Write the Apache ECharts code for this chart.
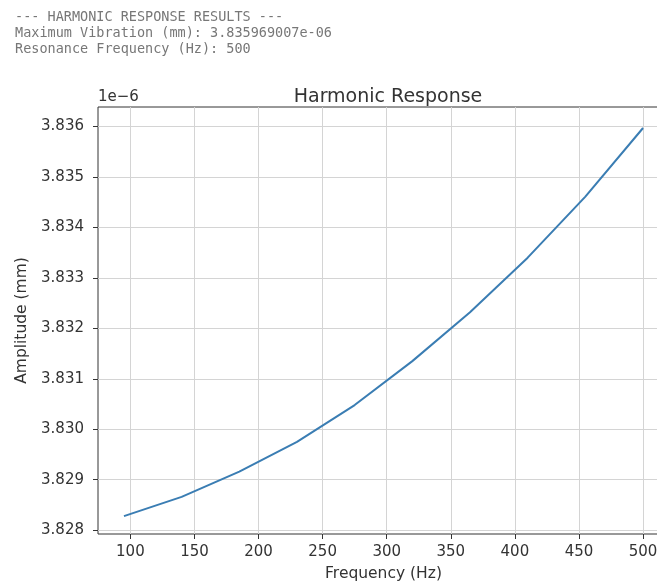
<!DOCTYPE html>
<html>
<head>
<meta charset="utf-8">
<script src="https://cdn.jsdelivr.net/npm/echarts@6/dist/echarts.min.js"></script>
<style>
html,body{margin:0;padding:0;background:#fff;}
#chart{width:657px;height:585px;}
</style>
</head>
<body>
<div id="chart"></div>
<script>
const headerLines = [
  '--- HARMONIC RESPONSE RESULTS ---',
  'Maximum Vibration (mm): 3.835969007e-06',
  'Resonance Frequency (Hz): 500'
];
const chartTitle = 'Harmonic Response';
const xName = 'Frequency (Hz)';
const yName = 'Amplitude (mm)';
const offsetText = '1e\u22126';
const frequencies = [95, 140, 185, 230, 275, 320, 365, 410, 455, 500];
const amplitudes = [3.82828, 3.82866, 3.82916, 3.82975, 3.83048, 3.83135, 3.83232, 3.83340, 3.83461, 3.835969];
const xTicks = [100, 150, 200, 250, 300, 350, 400, 450, 500];
const yTicks = [3.828, 3.829, 3.830, 3.831, 3.832, 3.833, 3.834, 3.835, 3.836];

const chart = echarts.init(document.getElementById('chart'), null, {renderer: 'canvas'});
const font = 'DejaVu Sans';
const gridLineStyle = {color: '#d4d4d4', width: 1};

const option = {
  animation: false,
  backgroundColor: '#ffffff',
  title: {
    text: chartTitle,
    left: 383, top: 83,
    textAlign: 'center',
    textStyle: {fontFamily: font, fontSize: 19, fontWeight: 'normal', color: '#333'}
  },
  graphic: [
    ...headerLines.map((t, i) => ({
      type: 'text', left: 15, top: 10 + i * 16,
      style: {text: t, font: '13.5px "DejaVu Sans Mono"', fill: '#777'}
    })),
    {type: 'text', left: 98, top: 90,
     style: {text: offsetText, font: '15px "DejaVu Sans"', fill: '#333'}}
  ],
  grid: {
    left: 98, top: 107, width: 571, height: 427,
    outerBoundsMode: 'none', containLabel: false,
    show: true, borderColor: '#333', borderWidth: 1, backgroundColor: 'transparent'
  },
  xAxis: {
    type: 'value', min: 74.75, max: 520.25,
    name: xName, nameLocation: 'middle', nameGap: 32,
    nameTextStyle: {fontFamily: font, fontSize: 15.5, color: '#333'},
    axisLine: {show: false},
    axisTick: {show: true, customValues: xTicks, length: 5, lineStyle: {color: '#333'}},
    axisLabel: {customValues: xTicks, fontFamily: font, fontSize: 15, color: '#333', margin: 11},
    splitLine: {show: true, lineStyle: gridLineStyle}
  },
  yAxis: {
    type: 'value', min: 3.827925, max: 3.836385,
    name: yName, nameLocation: 'middle', nameGap: 67, nameRotate: 90,
    nameTextStyle: {fontFamily: font, fontSize: 15.5, color: '#333'},
    axisLine: {show: false},
    axisTick: {show: true, customValues: yTicks, length: 5, lineStyle: {color: '#333'}},
    axisLabel: {customValues: yTicks, fontFamily: font, fontSize: 15, color: '#333', margin: 14,
      formatter: v => v.toFixed(3)},
    splitLine: {show: true, lineStyle: gridLineStyle}
  },
  series: [{
    type: 'line',
    data: frequencies.map((f, i) => [f, amplitudes[i]]),
    showSymbol: false,
    lineStyle: {color: '#3a7db3', width: 2},
    itemStyle: {color: '#3a7db3'},
    z: 5
  }]
};
chart.setOption(option);
</script>
</body>
</html>
